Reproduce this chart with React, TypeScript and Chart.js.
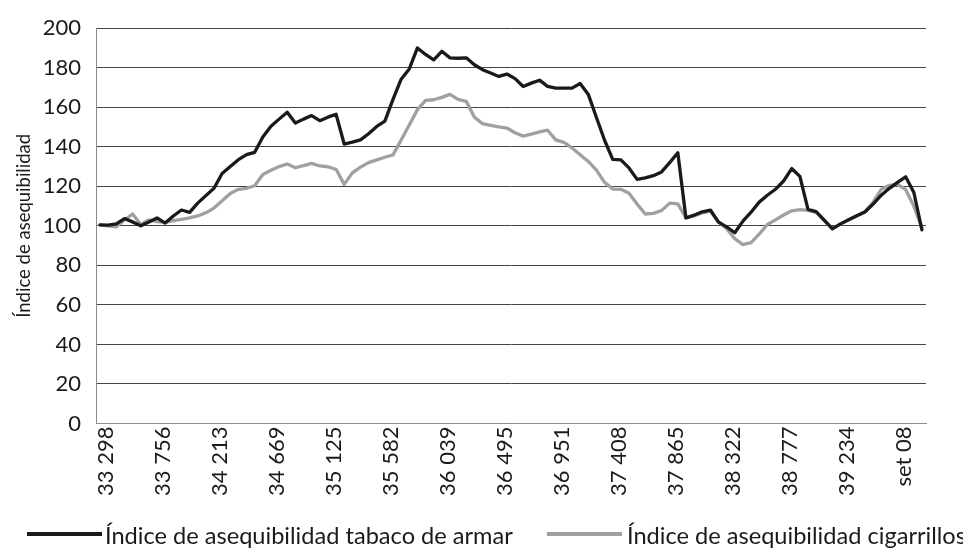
import React, { useEffect, useRef } from "react";
import { Chart, registerables } from "chart.js";

Chart.register(...registerables);

const tickLabels = [
  "33 298", "33 756", "34 213", "34 669", "35 125", "35 582", "36 039", "36 495",
  "36 951", "37 408", "37 865", "38 322", "38 777", "39 234", "set 08",
];

const seriesNames = [
  "Índice de asequibilidad tabaco de armar",
  "Índice de asequibilidad cigarrillos",
];

const tabacoArmar = [
  100.5, 100.4, 101, 103.7, 102, 100, 102, 104, 101.4, 105,
  108, 106.8, 111.5, 115.3, 119, 126.5, 130, 133.5, 136, 137.2,
  145, 150.4, 154, 157.5, 152, 154, 155.8, 153.2, 155, 156.5,
  141.4, 142.4, 143.5, 146.6, 150.3, 153, 164, 174.2, 179.4, 190,
  186.7, 184, 188.3, 185, 184.8, 185, 181.5, 179, 177.3, 175.6,
  176.8, 174.5, 170.5, 172.2, 173.7, 170.6, 169.7, 169.7, 169.7, 172,
  166.5, 154.8, 143.3, 133.6, 133.4, 129.3, 123.5, 124.3, 125.4, 127.3,
  132, 137, 104, 105.4, 107.1, 108, 101.9, 99.5, 96.5, 102.4,
  106.9, 112, 115.5, 118.5, 122.7, 129, 125, 108.3, 107.2, 102.9,
  98.5, 101, 103.1, 105.1, 107, 111, 115.5, 119, 122, 124.8,
  117, 98,
];

const cigarrillos = [
  100.4, 100, 99.5, 103, 106, 100.7, 103, 102.1, 101.8, 102.7,
  103.3, 104, 105, 106.6, 109, 112.7, 116.4, 118.5, 119, 120.3,
  126, 128.1, 130, 131.3, 129.4, 130.5, 131.6, 130.3, 129.9, 128.6,
  121, 126.8, 129.7, 132, 133.4, 134.7, 135.9, 143.4, 151, 158.8,
  163.5, 163.8, 165, 166.5, 164, 163, 155, 151.7, 150.8, 150.1,
  149.5, 147.1, 145.4, 146.4, 147.5, 148.4, 143.5, 142.2, 139.4, 136,
  132.6, 128.2, 122, 118.6, 118.5, 116.5, 111, 106, 106.3, 107.7,
  111.5, 111.1, 104, 105, 106.5, 107.5, 102, 98.6, 93.5, 90.5,
  91.5, 95.8, 100.7, 103, 105.5, 107.6, 108.2, 107.8, 106.8, 102.5,
  98.7, 101, 103.1, 105.1, 107.2, 112, 118.5, 120.5, 121, 118.4,
  110, 99,
];

const labelEvery = 7;
const categories = tabacoArmar.map((_, i) =>
  i % labelEvery === 0 ? tickLabels[i / labelEvery] ?? "" : ""
);

const yMin = 0;
const yMax = 200;
const yStep = 20;

const colors = ["#1a1a1a", "#a0a0a0"];
const FONT = "Lato, 'DejaVu Sans', sans-serif";

const legendPlugin = {
  id: "customLegend",
  afterDraw(chart: any) {
    const ctx = chart.ctx as CanvasRenderingContext2D;
    const items = [
      { x1: 27, x2: 102, tx: 105 },
      { x1: 547, x2: 622, tx: 627 },
    ];
    ctx.save();
    items.forEach((it, i) => {
      ctx.beginPath();
      ctx.strokeStyle = colors[i];
      ctx.lineWidth = 4;
      ctx.lineCap = "butt";
      ctx.moveTo(it.x1, 534);
      ctx.lineTo(it.x2, 534);
      ctx.stroke();
      ctx.fillStyle = "#1a1a1a";
      ctx.font = `23.6px ${FONT}`;
      ctx.textBaseline = "alphabetic";
      ctx.textAlign = "left";
      ctx.fillText(seriesNames[i], it.tx, 544);
    });
    ctx.restore();
  },
};

export default function App() {
  const ref = useRef<HTMLCanvasElement>(null);

  useEffect(() => {
    if (!ref.current) return;
    const chart = new Chart(ref.current, {
      type: "line",
      data: {
        labels: categories,
        datasets: [
          {
            label: seriesNames[0],
            data: tabacoArmar,
            borderColor: colors[0],
            backgroundColor: colors[0],
            borderWidth: 3.3,
            pointRadius: 0,
            tension: 0,
            borderJoinStyle: "round",
            borderCapStyle: "round",
          },
          {
            label: seriesNames[1],
            data: cigarrillos,
            borderColor: colors[1],
            backgroundColor: colors[1],
            borderWidth: 3.3,
            pointRadius: 0,
            tension: 0,
            borderJoinStyle: "round",
            borderCapStyle: "round",
          },
        ],
      },
      options: {
        animation: false,
        responsive: false,
        maintainAspectRatio: false,
        layout: { padding: { left: 0, right: 37, top: 23.5, bottom: 50 } },
        plugins: {
          legend: { display: false },
          tooltip: { enabled: false },
        },
        scales: {
          x: {
            type: "category",
            offset: true,
            grid: { display: false, drawTicks: false },
            border: { display: true, color: "#8c8c8c", width: 1 },
            ticks: {
              autoSkip: false,
              maxRotation: 90,
              minRotation: 90,
              padding: 3,
              labelOffset: 6,
              color: "#1a1a1a",
              font: { family: FONT, size: 22 },
            },
            afterFit(scale: any) {
              scale.height = 75.5;
            },
          },
          y: {
            min: yMin,
            max: yMax,
            ticks: {
              stepSize: yStep,
              padding: 15,
              color: "#1a1a1a",
              font: { family: FONT, size: 22 },
            },
            grid: {
              drawTicks: false,
              color: "#444444",
              lineWidth: 1,
            },
            border: { display: true, color: "#8c8c8c", width: 1 },
            title: {
              display: true,
              text: "Índice de asequibilidad",
              color: "#1a1a1a",
              font: { family: FONT, size: 18.5 },
              padding: { top: 13, bottom: 0 },
            },
            afterFit(scale: any) {
              scale.width = 96;
            },
          },
        },
      },
      plugins: [legendPlugin],
    });
    return () => chart.destroy();
  }, []);

  return (
    <div style={{ position: "absolute", left: 0, top: 0, width: 963, height: 549, background: "#fff" }}>
      <canvas ref={ref} width={963} height={549} />
    </div>
  );
}
